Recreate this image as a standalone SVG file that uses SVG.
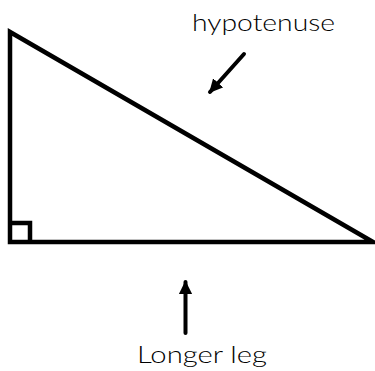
<svg xmlns="http://www.w3.org/2000/svg" width="375" height="371" viewBox="0 0 375 371">
<style>
.edge{fill:none;stroke:#000;stroke-width:4;stroke-linecap:round}
.shape{fill:none;stroke:#000;stroke-width:4.5;stroke-linejoin:miter}
.lbl{font-family:"Lato","Open Sans","Liberation Sans",sans-serif;font-weight:300;font-size:24px;fill:#000}
</style>
<defs>
<marker id="ah" viewBox="0 0 10 10" refX="9" refY="5" markerWidth="3.4" markerHeight="3.4" orient="auto" markerUnits="strokeWidth">
<path d="M0,0 L10,5 L0,10 Z" fill="#000"/>
</marker>
</defs>
<rect width="375" height="371" fill="#fff"/>
<g id="triangle">
<path class="shape" d="M10,32 L10,242 L373,242 Z"/>
<path class="shape" d="M10,223 L30,223 L30,242" stroke-width="3.5"/>
</g>
<g id="hypotenuse-label">
<text class="lbl" x="192" y="31" textLength="143" lengthAdjust="spacingAndGlyphs">hypotenuse</text>
</g>
<g id="longer-leg-label">
<text class="lbl" x="137" y="363" textLength="130" lengthAdjust="spacingAndGlyphs">Longer leg</text>
</g>
<g id="connectors">
<line class="edge" x1="244" y1="54" x2="210" y2="92" marker-end="url(#ah)"/>
<line class="edge" x1="185.5" y1="333" x2="185.5" y2="282" marker-end="url(#ah)"/>
</g>
</svg>
